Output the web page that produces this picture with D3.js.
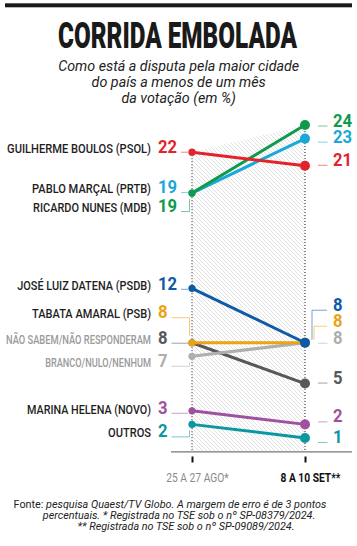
<!DOCTYPE html>
<html><head><meta charset="utf-8">
<script src="https://cdn.jsdelivr.net/npm/d3@7"></script>
<style>body{margin:0;background:#fff}svg{display:block;font-family:Roboto,"Noto Sans",sans-serif}</style>
</head><body><svg id="c" width="357" height="546"></svg>
<script>
// ---------- DATA ----------
const candidates = ["GUILHERME BOULOS (PSOL)", "PABLO MARÇAL (PRTB)", "RICARDO NUNES (MDB)", "JOSÉ LUIZ DATENA (PSDB)", "TABATA AMARAL (PSB)", "NÃO SABEM/NÃO RESPONDERAM", "BRANCO/NULO/NENHUM", "MARINA HELENA (NOVO)", "OUTROS"];
const valuesAug = [22, 19, 19, 12, 8, 8, 7, 3, 2];
const valuesSep = [21, 23, 24, 8, 8, 5, 8, 2, 1];
const periods = ["25 A 27 AGO*", "8 A 10 SET**"];
const title = "CORRIDA EMBOLADA";
const subtitle = ["Como está a disputa pela maior cidade", "do país a menos de um mês", "da votação (em %)"];
const sourceLines = [["Fonte: ", "pesquisa Quaest/TV Globo. A margem de erro é de 3 pontos"], ["", "percentuais. * Registrada no TSE sob o nº SP-08379/2024."], ["", "** Registrada no TSE sob o nº SP-09089/2024."]];

// ---------- STYLE / LAYOUT ----------
const colors = ["#e3232b", "#1aa8d8", "#0f9a4c", "#0d5aa7", "#e9a313", "#58585a", "#aeaeae", "#a050a0", "#0b97a2"];
const nameColors = ["#1e1e1e", "#1e1e1e", "#1e1e1e", "#1e1e1e", "#1e1e1e", "#9a9a9a", "#9a9a9a", "#1e1e1e", "#1e1e1e"];
const nameWidths = [144, 119, 118, 134, 119, 145, 106, 124, 43];
const leftNudge = [0.5, 0, 19, 1.5, -24.5, 1, 10.5, 3, 13];
const rightNudge = [0, 4, 1.5, -32, -16, 0, 1, -2, 5];
const drawOrder = [8, 7, 5, 6, 4, 3, 1, 2, 0];
const footerCenters = [170, 179, 186];

const svg = d3.select("#c");
svg.append("rect").attr("width", 357).attr("height", 546).attr("fill", "#fff");

const x = d3.scalePoint().domain(periods).range([192, 305]);
const y = d3.scaleLinear().domain([0, 24]).range([451.6, 125]);

function sText(g, px, py, str, o) {
  return g.append("text")
    .attr("transform", `translate(${px},${py}) scale(${o.sx || 1},1)`)
    .attr("text-anchor", o.anchor || "start")
    .attr("font-size", o.size)
    .attr("font-weight", o.weight || 400)
    .attr("font-style", o.style || "normal")
    .attr("fill", o.fill || "#1e1e1e")
    .text(str);
}
// text fitted to a target width via horizontal scaling
function fitText(g, px, py, str, width, o) {
  const t = sText(g, px, py, str, Object.assign({}, o, { sx: 1 }));
  const w = t.node().getComputedTextLength();
  t.attr("transform", `translate(${px},${py}) scale(${width / w},1)`);
  return t;
}

// top bar
svg.append("rect").attr("x", 5).attr("y", 3.3).attr("width", 347).attr("height", 4).attr("fill", "#1a1a1a");

// title
fitText(svg, 177.5, 47.7, title, 239, { anchor: "middle", size: 36.5, weight: 900, fill: "#1a1a1a" });

// subtitle
subtitle.forEach((s, i) => {
  svg.append("text").attr("x", 178.7).attr("y", 70.5 + i * 16.3).attr("text-anchor", "middle")
    .attr("font-size", 14.3).attr("font-style", "italic").attr("fill", "#222").text(s);
});

// hatch pattern
const defs = svg.append("defs");
const pat = defs.append("pattern").attr("id", "hatch").attr("patternUnits", "userSpaceOnUse")
  .attr("width", 4).attr("height", 4);
pat.append("path").attr("d", "M-1,-1L5,5M-1,3L1,5M3,-1L5,1").attr("stroke", "#cdcdcd").attr("stroke-width", 0.6);

const env = [{ p: periods[0], v: d3.max(valuesAug) }, { p: periods[1], v: d3.max(valuesSep) }];
svg.append("path").datum(env)
  .attr("d", d3.area().x(d => x(d.p)).y0(y(0)).y1(d => y(d.v)))
  .attr("fill", "url(#hatch)");

// dotted verticals
env.forEach(d => {
  svg.append("line").attr("x1", x(d.p)).attr("x2", x(d.p)).attr("y1", y(d.v)).attr("y2", y(0))
    .attr("stroke", "#222").attr("stroke-width", 1).attr("stroke-dasharray", "1,2");
});

// baseline
svg.append("line").attr("x1", 171).attr("x2", 352).attr("y1", y(0) + 0.3).attr("y2", y(0) + 0.3)
  .attr("stroke", "#777").attr("stroke-width", 1.2);

// axis
const ax = svg.append("g").attr("transform", `translate(0,${456.5})`)
  .call(d3.axisBottom(x).tickSize(6).tickSizeOuter(0).tickPadding(9.6));
ax.select(".domain").remove();
ax.selectAll(".tick line").attr("stroke", "#111").attr("stroke-width", 2);
ax.selectAll(".tick text")
  .attr("font-family", "Roboto").attr("font-size", 13.5)
  .attr("fill", (d, i) => i === 0 ? "#8a8a8a" : "#111")
  .attr("font-weight", (d, i) => i === 0 ? 400 : 700)
  .attr("transform", "translate(5,0) scale(0.76,1)");

// series
const labels = svg.append("g");
drawOrder.forEach(i => {
  const pts = [{ p: periods[0], v: valuesAug[i] }, { p: periods[1], v: valuesSep[i] }];
  const g = svg.append("g");
  g.append("path").datum(pts)
    .attr("d", d3.line().x(d => x(d.p)).y(d => y(d.v)))
    .attr("fill", "none").attr("stroke", colors[i]).attr("stroke-width", 3).attr("stroke-linecap", "round");
  g.append("circle").attr("cx", x(periods[0])).attr("cy", y(valuesAug[i])).attr("r", 3.6).attr("fill", colors[i]);
  g.append("circle").attr("cx", x(periods[1])).attr("cy", y(valuesSep[i])).attr("r", 5).attr("fill", colors[i]);
});

// left labels
candidates.forEach((name, i) => {
  const py = y(valuesAug[i]);
  const ly = py + leftNudge[i];
  fitText(labels, 151, ly, name, nameWidths[i], { anchor: "end", size: 12.8, weight: 500, fill: nameColors[i] });
  const vcol = i === 5 ? "#58585a" : (i === 6 ? "#aeaeae" : colors[i]);
  const vt = sText(labels, 158, ly, String(valuesAug[i]), { size: 17.5, weight: 700, sx: 0.95, fill: vcol });
  const vEnd = 158 + vt.node().getComputedTextLength() * 0.95;
  const cx0 = vEnd + 4;
  let d;
  if (Math.abs(leftNudge[i]) > 6) {
    const cornerX = 189.5;
    const endY = ly > py ? py + 6 : py - 7;
    d = `M${cx0},${ly - 0.5}H${cornerX}V${endY}`;
  } else {
    d = `M${cx0},${ly - 0.5}H188`;
  }
  labels.append("path").attr("d", d).attr("fill", "none").attr("stroke", colors[i])
    .attr("stroke-opacity", 0.55).attr("stroke-width", 1);
});

// right labels
candidates.forEach((name, i) => {
  const py = y(valuesSep[i]);
  const ly = py + rightNudge[i];
  const vcol = i === 5 ? "#58585a" : (i === 6 ? "#aeaeae" : colors[i]);
  sText(labels, 333, ly, String(valuesSep[i]), { size: 17.5, weight: 700, sx: 0.95, fill: vcol });
  let d;
  if (Math.abs(rightNudge[i]) > 6) {
    const cornerX = i === 3 ? 312 : 314;
    d = `M327,${ly - 0.5}H${cornerX}V${py - 3}`;
  } else {
    d = `M318,${ly - 0.5}H327.5`;
  }
  labels.append("path").attr("d", d).attr("fill", "none").attr("stroke", colors[i])
    .attr("stroke-opacity", 0.55).attr("stroke-width", 1);
});

// footer
sourceLines.forEach((ln, i) => {
  const t = svg.append("text").attr("x", footerCenters[i]).attr("y", 507.7 + i * 10.9)
    .attr("text-anchor", "middle").attr("font-size", 10.8).attr("fill", "#222");
  if (ln[0]) t.append("tspan").text(ln[0]);
  t.append("tspan").attr("font-style", "italic").text(ln[1]);
});
</script></body></html>
